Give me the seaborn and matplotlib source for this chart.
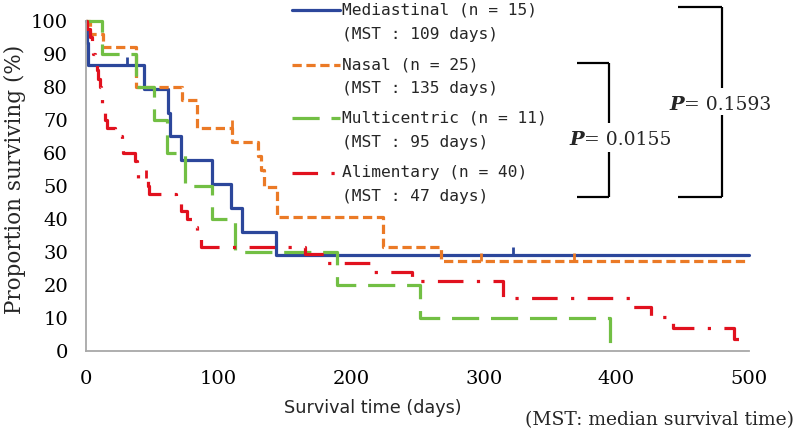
import matplotlib
matplotlib.use("Agg")
import matplotlib.pyplot as plt
from matplotlib.lines import Line2D
import seaborn as sns
import pandas as pd

# ---------------- data ----------------
med_t = [0, 0.5, 1.5, 44, 61.5, 63, 72, 95, 109, 118, 143, 500]
med_s = [100, 93.3, 86.7, 79.4, 72.2, 65.0, 57.8, 50.6, 43.3, 36.1, 28.9, 28.9]
med_cens_t = [31, 322]
med_cens_s = [86.7, 28.9]

nas_t = [0, 3, 13, 38, 72.5, 84, 110, 130, 132, 134, 144, 224, 268, 500]
nas_s = [100, 96, 92, 80, 76, 67.6, 63.2, 59, 54.7, 49.5, 40.5, 31.4, 27.1, 27.1]
nas_cens_t = [110, 298, 368]
nas_cens_s = [67.6, 27.1, 27.1]

mul_t = [0, 12, 38, 51, 61, 75, 95, 112, 189, 252, 395]
mul_s = [100, 90, 80, 70, 60, 50, 40, 30, 20, 10, 0]

ali_t = [0, 1, 3, 4.5, 5.5, 7, 8, 9, 10.5, 11, 12, 13, 14.5, 16, 22, 27.5, 28,
         37, 38.5, 39, 47, 47.5, 68, 72, 76, 80, 84, 87, 165, 182, 214, 246,
         314.5, 410, 426, 443, 489, 500]
ali_s = [100, 97.5, 95, 92.5, 90, 87.5, 85, 82.5, 80, 77.5, 75, 72.5, 70, 67.5,
         65, 62.5, 60, 57.5, 55, 52.5, 50, 47.5, 45, 42.5, 40, 37.5, 35, 31.6,
         29.2, 26.5, 23.8, 21.1, 16.0, 13.2, 10.2, 6.9, 3.5, 3.5]
ali_cens_t = [45]
ali_cens_s = [52.5]

legend_names = ["Mediastinal (n = 15)", "Nasal (n = 25)",
                "Multicentric (n = 11)", "Alimentary (n = 40)"]
legend_mst = ["(MST : 109 days)", "(MST : 135 days)",
              "(MST : 95 days)", "(MST : 47 days)"]
x_ticks = [0, 100, 200, 300, 400, 500]
y_ticks = [0, 10, 20, 30, 40, 50, 60, 70, 80, 90, 100]
p_values = ["0.0155", "0.1593"]

# ---------------- style ----------------
sns.set_style("white")
plt.rcParams["font.family"] = ["DejaVu Serif"]

C_BLUE = "#2C479B"
C_ORANGE = "#EB7A26"
C_GREEN = "#72BF44"
C_RED = "#E1111E"
LW = 2.3

styles = [
    (C_BLUE, "-"),
    (C_ORANGE, (0, (2.9, 1.45))),
    (C_GREEN, (0, (8.5, 3.7))),
    (C_RED, (0, (8.0, 4.2, 1.0, 4.2))),
]

W, H = 797, 438
fig = plt.figure(figsize=(W / 100, H / 100), dpi=100)
ax = fig.add_axes([86 / W, 1 - 350.7 / H, (749 - 86) / W, (350.7 - 21) / H])

series = [(med_t, med_s), (nas_t, nas_s), (mul_t, mul_s), (ali_t, ali_s)]
for (t, s), (col, ls) in zip(series, styles):
    df = pd.DataFrame({"t": t, "s": s})
    sns.lineplot(data=df, x="t", y="s", ax=ax, estimator=None, sort=False,
                 drawstyle="steps-post", color=col, linewidth=LW,
                 linestyle=ls, legend=False, clip_on=False)
    ax.lines[-1].set_dash_capstyle("butt")

tick_marker = [(0, 0), (0, 1)]
for ct, cs, col in [(med_cens_t, med_cens_s, C_BLUE),
                    (nas_cens_t, nas_cens_s, C_ORANGE),
                    (ali_cens_t, ali_cens_s, C_RED)]:
    ax.plot(ct, cs, linestyle="none", marker=tick_marker, markersize=12,
            markeredgewidth=2.0, color=col, clip_on=False)

ax.set_xlim(0, 500)
ax.set_ylim(0, 100)
ax.set_xticks(x_ticks)
ax.set_yticks(y_ticks)
ax.set_xlabel("")
ax.set_ylabel("")
for side in ["top", "right"]:
    ax.spines[side].set_visible(False)
for side in ["left", "bottom"]:
    ax.spines[side].set_color("#A8A8A8")
    ax.spines[side].set_linewidth(1.3)
ax.tick_params(axis="both", which="major", direction="out", length=5,
               width=1.0, color="#A8A8A8", labelsize=14, labelcolor="black")
ax.tick_params(axis="y", pad=8)
ax.tick_params(axis="x", pad=9)
ax.grid(False)

# y label
fig.text(15 / W, 1 - 179 / H, "Proportion surviving (%)", rotation=90,
         ha="center", va="center", fontsize=15.5, family="DejaVu Serif")
# x label
fig.text(373 / W, 1 - 408 / H, "Survival time (days)", ha="center",
         va="center", fontsize=12.7, family="DejaVu Sans")
# footnote
fig.text(794 / W, 1 - 420 / H, "(MST: median survival time)", ha="right",
         va="center", fontsize=13.5, family="DejaVu Serif")

# ---------------- manual legend ----------------
rows = [10, 65, 118, 173]
for (col, ls), name, mst, yr in zip(styles, legend_names, legend_mst, rows):
    ln = Line2D([292 / W, 340 / W], [1 - yr / H, 1 - yr / H],
                transform=fig.transFigure, color=col, linewidth=LW,
                linestyle=ls, dash_capstyle="butt")
    fig.add_artist(ln)
    fig.text(342 / W, 1 - yr / H, name, ha="left", va="center",
             fontsize=11.7, family="DejaVu Sans Mono")
    fig.text(342 / W, 1 - (yr + 24) / H, mst, ha="left", va="center",
             fontsize=11.7, family="DejaVu Sans Mono")

# ---------------- p-value brackets ----------------
def seg(x0, y0, x1, y1):
    fig.add_artist(Line2D([x0 / W, x1 / W], [1 - y0 / H, 1 - y1 / H],
                          transform=fig.transFigure, color="black",
                          linewidth=1.6, solid_capstyle="butt"))

brackets = [
    dict(xl=577, xr=609, yt=63, yb=197, gap=(123, 152), tx=569, ty=140),
    dict(xl=678, xr=722, yt=7, yb=197, gap=(88, 115), tx=669, ty=105),
]
for b, pv in zip(brackets, p_values):
    seg(b["xl"], b["yt"], b["xr"], b["yt"])
    seg(b["xr"], b["yt"], b["xr"], b["gap"][0])
    seg(b["xr"], b["gap"][1], b["xr"], b["yb"])
    seg(b["xl"], b["yb"], b["xr"], b["yb"])
    fig.text(b["tx"] / W, 1 - b["ty"] / H, "P", ha="left", va="center",
             fontsize=14, family="DejaVu Serif", style="italic",
             weight="bold")
    fig.text((b["tx"] + 15) / W, 1 - b["ty"] / H, "= " + pv, ha="left",
             va="center", fontsize=13.5, family="DejaVu Serif")

fig.savefig("out.png", dpi=100)
